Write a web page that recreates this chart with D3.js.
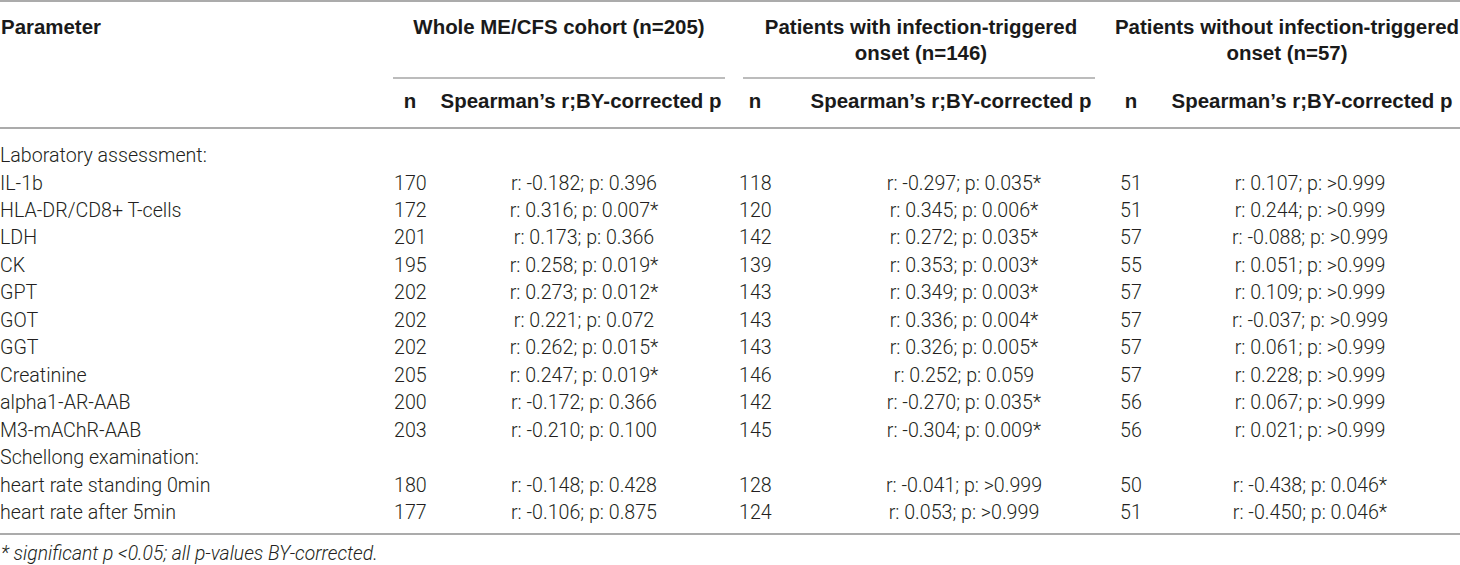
<!DOCTYPE html>
<html>
<head>
<meta charset="utf-8">
<script src="https://cdn.jsdelivr.net/npm/d3@7"></script>
<style>
  html, body { margin: 0; padding: 0; background: #fff; }
  svg { display: block; }
  .hd { font-family: "Liberation Sans", Arial, sans-serif; font-weight: 700; fill: #1a1a1a; }
  .bd { font-family: Roboto, "Liberation Sans", Arial, sans-serif; font-weight: 300; fill: #231f20; }
  .fn { font-family: Roboto, "Liberation Sans", Arial, sans-serif; font-weight: 300; font-style: italic; fill: #231f20; }
</style>
</head>
<body>
<div id="chart"></div>
<script>
// table content
const sections = ['Laboratory assessment:', 'Schellong examination:'];
const labParams = ['IL-1b', 'HLA-DR/CD8+ T-cells', 'LDH', 'CK', 'GPT', 'GOT', 'GGT',
    'Creatinine', 'alpha1-AR-AAB', 'M3-mAChR-AAB'];
const schellongParams = ['heart rate standing 0min', 'heart rate after 5min'];

const groups = ['Whole ME/CFS cohort (n=205)',
    'Patients with infection-triggered\nonset (n=146)',
    'Patients without infection-triggered\nonset (n=57)'];
const colHeads = ['n', 'Spearman\u2019s r;BY-corrected p'];

const nWhole = [170, 172, 201, 195, 202, 202, 202, 205, 200, 203, 180, 177];
const rWhole = ['-0.182', '0.316', '0.173', '0.258', '0.273', '0.221', '0.262', '0.247', '-0.172', '-0.210', '-0.148', '-0.106'];
const pWhole = ['0.396', '0.007*', '0.366', '0.019*', '0.012*', '0.072', '0.015*', '0.019*', '0.366', '0.100', '0.428', '0.875'];

const nInf = [118, 120, 142, 139, 143, 143, 143, 146, 142, 145, 128, 124];
const rInf = ['-0.297', '0.345', '0.272', '0.353', '0.349', '0.336', '0.326', '0.252', '-0.270', '-0.304', '-0.041', '0.053'];
const pInf = ['0.035*', '0.006*', '0.035*', '0.003*', '0.003*', '0.004*', '0.005*', '0.059', '0.035*', '0.009*', '>0.999', '>0.999'];

const nNon = [51, 51, 57, 55, 57, 57, 57, 57, 56, 56, 50, 51];
const rNon = ['0.107', '0.244', '-0.088', '0.051', '0.109', '-0.037', '0.061', '0.228', '0.067', '0.021', '-0.438', '-0.450'];
const pNon = ['>0.999', '>0.999', '>0.999', '>0.999', '>0.999', '>0.999', '>0.999', '>0.999', '>0.999', '>0.999', '0.046*', '0.046*'];

const footnote = '* significant p <0.05; all p-values BY-corrected.';

const W = 1460, H = 565;
const svg = d3.select('#chart').append('svg').attr('width', W).attr('height', H);

// fit a font size so that a sample string gets the width seen in the picture
function fitSize(cls, sample, target, base) {
    const t = svg.append('text').attr('class', cls).attr('font-size', base).text(sample);
    const w = t.node().getComputedTextLength();
    t.remove();
    return base * target / w;
}
const hdSize = fitSize('hd', colHeads[1], 281, 20);
const bdSize = fitSize('bd', sections[0], 207, 20);
const fnSize = fitSize('fn', footnote, 377, 18);

// rows: section labels + parameters in reading order
const params = labParams.concat(schellongParams);
const rows = [{ key: 's0', label: sections[0] }]
    .concat(labParams.map((d, i) => ({ key: 'p' + i, label: d, i })))
    .concat([{ key: 's1', label: sections[1] }])
    .concat(schellongParams.map((d, j) => ({ key: 'p' + (labParams.length + j), label: d, i: labParams.length + j })));

const y = d3.scalePoint().domain(rows.map(d => d.key)).range([155, 512]);
const dy = 0.36 * bdSize;

// column layout per group: n left edge, n header centre, spearman centre (header / body), rule span
const cols = [
    { nx: 394, nh: 410, sh: 581, sb: 584, x0: 393, x1: 725, tc: 559, n: nWhole, r: rWhole, p: pWhole },
    { nx: 739, nh: 755, sh: 951, sb: 964, x0: 743, x1: 1095, tc: 921, n: nInf, r: rInf, p: pInf },
    { nx: 1120, nh: 1131, sh: 1312, sb: 1310, x0: null, x1: null, tc: 1287, n: nNon, r: rNon, p: pNon }
];

const rule = '#8f8f8f';
const line = (x0, x1, yy, w, c) => svg.append('line')
    .attr('x1', x0).attr('x2', x1).attr('y1', yy).attr('y2', yy)
    .attr('stroke', c || rule).attr('stroke-width', w);

line(0, W, 1, 1.6);
line(0, W, 128, 1.6);
line(0, W, 534, 1.6);
cols.filter(c => c.x0 !== null).forEach(c => line(c.x0, c.x1, 78, 1.3, '#a6a6a6'));

// header
svg.append('text').attr('class', 'hd').attr('font-size', hdSize)
    .attr('x', 1).attr('y', 27 + 0.36 * hdSize).text('Parameter');

cols.forEach((c, gi) => {
    const lines = groups[gi].split('\n');
    svg.append('g').selectAll('text').data(lines).join('text')
        .attr('class', 'hd').attr('font-size', hdSize)
        .attr('text-anchor', 'middle')
        .attr('x', c.tc)
        .attr('y', (d, k) => 27 + k * 26 + 0.36 * hdSize)
        .text(d => d);
    svg.append('text').attr('class', 'hd').attr('font-size', hdSize)
        .attr('text-anchor', 'middle').attr('x', c.nh).attr('y', 101 + 0.36 * hdSize).text(colHeads[0]);
    svg.append('text').attr('class', 'hd').attr('font-size', hdSize)
        .attr('text-anchor', 'middle').attr('x', c.sh).attr('y', 101 + 0.36 * hdSize).text(colHeads[1]);
});

// body: labels
svg.append('g').selectAll('text').data(rows).join('text')
    .attr('class', 'bd').attr('font-size', bdSize)
    .attr('x', 0).attr('y', d => y(d.key) + dy)
    .text(d => d.label);

// body: values
const valueRows = rows.filter(d => d.i !== undefined);
cols.forEach(c => {
    const g = svg.append('g');
    g.selectAll('text.n').data(valueRows).join('text')
        .attr('class', 'bd n').attr('font-size', bdSize)
        .attr('x', c.nx).attr('y', d => y(d.key) + dy)
        .text(d => c.n[d.i]);
    g.selectAll('text.s').data(valueRows).join('text')
        .attr('class', 'bd s').attr('font-size', bdSize)
        .attr('text-anchor', 'middle')
        .attr('x', c.sb).attr('y', d => y(d.key) + dy)
        .text(d => `r: ${c.r[d.i]}; p: ${c.p[d.i]}`);
});

// footnote
svg.append('text').attr('class', 'fn').attr('font-size', fnSize)
    .attr('x', 1).attr('y', 553 + 0.36 * fnSize).text(footnote);
</script>
</body>
</html>
